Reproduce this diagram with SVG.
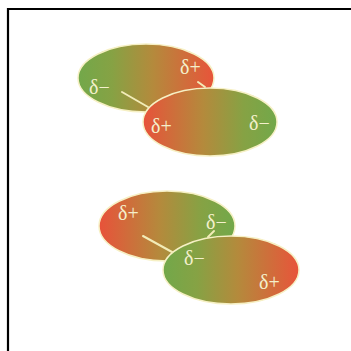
<svg xmlns="http://www.w3.org/2000/svg" width="351" height="351" viewBox="0 0 351 351">
  <defs>
    <!-- polar molecule shading: green (negative end) to red (positive end) -->
    <linearGradient id="gr" x1="0" y1="0" x2="1" y2="0">
      <stop offset="0" stop-color="#72a84a"/>
      <stop offset="0.25" stop-color="#86a244"/>
      <stop offset="0.55" stop-color="#b48a3c"/>
      <stop offset="1" stop-color="#e8543a"/>
    </linearGradient>
    <linearGradient id="rg" x1="0" y1="0" x2="1" y2="0">
      <stop offset="0" stop-color="#e8523a"/>
      <stop offset="0.45" stop-color="#b48a3c"/>
      <stop offset="0.75" stop-color="#86a244"/>
      <stop offset="1" stop-color="#72a84a"/>
    </linearGradient>
    <style>
      .mol { stroke: #f6f0c4; stroke-width: 1.5; }
      .chg { font-family: "Liberation Serif", "DejaVu Serif", serif; font-size: 20px; fill: #f4f0cc; }
      .link { stroke: #f2ecb8; stroke-width: 2; stroke-linecap: round; fill: none; }
      .frame { stroke: #000; stroke-width: 2.2; fill: none; }
    </style>
  </defs>

  <rect width="351" height="351" fill="#fff"/>
  <polyline class="frame" points="8,351 8,9 351,9"/>

  <!-- upper pair -->
  <g id="molA">
    <ellipse class="mol" cx="146" cy="78" rx="68" ry="34" fill="url(#gr)"/>
    <text class="chg" x="89" y="94">δ−</text>
    <text class="chg" x="180" y="74">δ+</text>
  </g>
  <g id="molB">
    <ellipse class="mol" cx="210" cy="122" rx="67" ry="34" fill="url(#rg)"/>
    <text class="chg" x="151" y="133">δ+</text>
    <text class="chg" x="249" y="130">δ−</text>
  </g>

  <!-- lower pair -->
  <g id="molC">
    <ellipse class="mol" cx="167" cy="226" rx="68" ry="35" fill="url(#rg)"/>
    <text class="chg" x="118" y="220">δ+</text>
    <text class="chg" x="206" y="229">δ−</text>
  </g>
  <g id="molD">
    <ellipse class="mol" cx="231" cy="270" rx="68" ry="34" fill="url(#gr)"/>
    <text class="chg" x="184" y="265">δ−</text>
    <text class="chg" x="259" y="289">δ+</text>
  </g>

  <!-- dipole attraction lines -->
  <g id="connectors">
    <line class="link" x1="122" y1="92" x2="148" y2="107"/>
    <line class="link" x1="198" y1="82" x2="205" y2="87"/>
    <line class="link" x1="143" y1="236" x2="172" y2="252"/>
    <line class="link" x1="214" y1="231" x2="208" y2="237"/>
  </g>
</svg>
